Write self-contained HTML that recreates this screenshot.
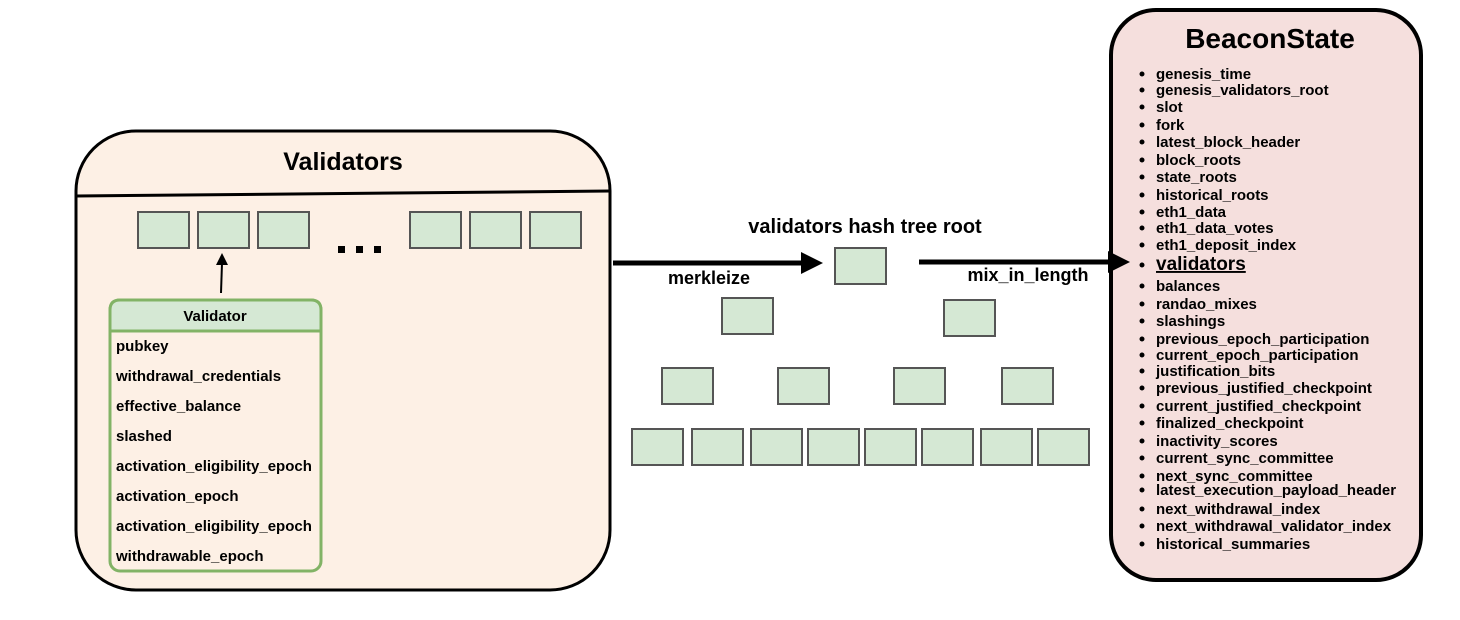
<!DOCTYPE html>
<html><head><meta charset="utf-8"><style>
html,body{margin:0;padding:0;background:#fff}
svg{display:block}
text{font-family:"Liberation Sans",sans-serif;font-weight:bold;fill:#000}
</style></head><body>
<svg width="1460" height="620" viewBox="0 0 1460 620" xmlns="http://www.w3.org/2000/svg">
<!-- Validators container -->
<rect x="76" y="131" width="534" height="459" rx="60" fill="#fdf0e5" stroke="#000" stroke-width="3"/>
<line x1="76" y1="196" x2="610" y2="191" stroke="#000" stroke-width="3"/>
<text x="343" y="170" font-size="25" text-anchor="middle">Validators</text>
<g fill="#d5e8d4" stroke="#555" stroke-width="2">
<rect x="138" y="212" width="51" height="36"/><rect x="198" y="212" width="51" height="36"/><rect x="258" y="212" width="51" height="36"/>
<rect x="410" y="212" width="51" height="36"/><rect x="470" y="212" width="51" height="36"/><rect x="530" y="212" width="51" height="36"/>
</g>
<g fill="#000"><rect x="338" y="246" width="7" height="7"/><rect x="356" y="246" width="7" height="7"/><rect x="374" y="246" width="7" height="7"/></g>
<line x1="221" y1="293" x2="222" y2="263" stroke="#000" stroke-width="2"/>
<polygon points="222,253 216,265 228,265" fill="#000"/>
<!-- Validator table -->
<rect x="110" y="300" width="211" height="271" rx="10" fill="#fdf0e5" stroke="#82b366" stroke-width="3"/>
<path d="M110,331 V310 Q110,300 120,300 H311 Q321,300 321,310 V331 Z" fill="#d5e8d4" stroke="#82b366" stroke-width="3"/>
<text x="215" y="321" font-size="15" text-anchor="middle">Validator</text>
<g font-size="15">
<text x="116" y="351">pubkey</text>
<text x="116" y="381">withdrawal_credentials</text>
<text x="116" y="411">effective_balance</text>
<text x="116" y="441">slashed</text>
<text x="116" y="471">activation_eligibility_epoch</text>
<text x="116" y="501">activation_epoch</text>
<text x="116" y="531">activation_eligibility_epoch</text>
<text x="116" y="561">withdrawable_epoch</text>
</g>
<!-- BeaconState -->
<rect x="1111" y="10" width="310" height="570" rx="45" fill="#f5dfdd" stroke="#000" stroke-width="4"/>
<text x="1270" y="48" font-size="28" text-anchor="middle">BeaconState</text>
<!-- arrows -->
<line x1="613" y1="263" x2="802" y2="263" stroke="#000" stroke-width="5"/>
<polygon points="823,263 801,252 801,274" fill="#000"/>
<text x="709" y="284" font-size="18" text-anchor="middle">merkleize</text>
<text x="865" y="233" font-size="20" text-anchor="middle">validators hash tree root</text>
<line x1="919" y1="262" x2="1110" y2="262" stroke="#000" stroke-width="5"/>
<polygon points="1130,262 1108,251 1108,273" fill="#000"/>
<text x="1028" y="281" font-size="18" text-anchor="middle">mix_in_length</text>
<g fill="#d5e8d4" stroke="#555" stroke-width="2">
<rect x="835" y="248" width="51" height="36"/>
<rect x="722" y="298" width="51" height="36"/><rect x="944" y="300" width="51" height="36"/>
<rect x="662" y="368" width="51" height="36"/><rect x="778" y="368" width="51" height="36"/><rect x="894" y="368" width="51" height="36"/><rect x="1002" y="368" width="51" height="36"/>
<rect x="632" y="429" width="51" height="36"/><rect x="692" y="429" width="51" height="36"/><rect x="751" y="429" width="51" height="36"/><rect x="808" y="429" width="51" height="36"/>
<rect x="865" y="429" width="51" height="36"/><rect x="922" y="429" width="51" height="36"/><rect x="981" y="429" width="51" height="36"/><rect x="1038" y="429" width="51" height="36"/>
</g>
<g font-size="15">
<text x="1156" y="79">genesis_time</text>
<text x="1156" y="95">genesis_validators_root</text>
<text x="1156" y="112">slot</text>
<text x="1156" y="130">fork</text>
<text x="1156" y="147">latest_block_header</text>
<text x="1156" y="165">block_roots</text>
<text x="1156" y="182">state_roots</text>
<text x="1156" y="200">historical_roots</text>
<text x="1156" y="217">eth1_data</text>
<text x="1156" y="233">eth1_data_votes</text>
<text x="1156" y="250">eth1_deposit_index</text>
<text x="1156" y="270" font-size="19" text-decoration="underline">validators</text>
<text x="1156" y="291">balances</text>
<text x="1156" y="309">randao_mixes</text>
<text x="1156" y="326">slashings</text>
<text x="1156" y="344">previous_epoch_participation</text>
<text x="1156" y="360">current_epoch_participation</text>
<text x="1156" y="376">justification_bits</text>
<text x="1156" y="393">previous_justified_checkpoint</text>
<text x="1156" y="411">current_justified_checkpoint</text>
<text x="1156" y="428">finalized_checkpoint</text>
<text x="1156" y="446">inactivity_scores</text>
<text x="1156" y="463">current_sync_committee</text>
<text x="1156" y="481">next_sync_committee</text>
<text x="1156" y="495">latest_execution_payload_header</text>
<text x="1156" y="514">next_withdrawal_index</text>
<text x="1156" y="531">next_withdrawal_validator_index</text>
<text x="1156" y="549">historical_summaries</text>
</g>
<g fill="#000">
<circle cx="1142" cy="74" r="2.5"/><circle cx="1142" cy="90" r="2.5"/><circle cx="1142" cy="107" r="2.5"/><circle cx="1142" cy="125" r="2.5"/>
<circle cx="1142" cy="142" r="2.5"/><circle cx="1142" cy="160" r="2.5"/><circle cx="1142" cy="177" r="2.5"/><circle cx="1142" cy="195" r="2.5"/>
<circle cx="1142" cy="212" r="2.5"/><circle cx="1142" cy="228" r="2.5"/><circle cx="1142" cy="245" r="2.5"/><circle cx="1142" cy="265" r="2.5"/>
<circle cx="1142" cy="286" r="2.5"/><circle cx="1142" cy="304" r="2.5"/><circle cx="1142" cy="321" r="2.5"/><circle cx="1142" cy="339" r="2.5"/>
<circle cx="1142" cy="355" r="2.5"/><circle cx="1142" cy="371" r="2.5"/><circle cx="1142" cy="388" r="2.5"/><circle cx="1142" cy="406" r="2.5"/>
<circle cx="1142" cy="423" r="2.5"/><circle cx="1142" cy="441" r="2.5"/><circle cx="1142" cy="458" r="2.5"/><circle cx="1142" cy="476" r="2.5"/>
<circle cx="1142" cy="490" r="2.5"/><circle cx="1142" cy="509" r="2.5"/><circle cx="1142" cy="526" r="2.5"/><circle cx="1142" cy="544" r="2.5"/>
</g>
</svg>
</body></html>
